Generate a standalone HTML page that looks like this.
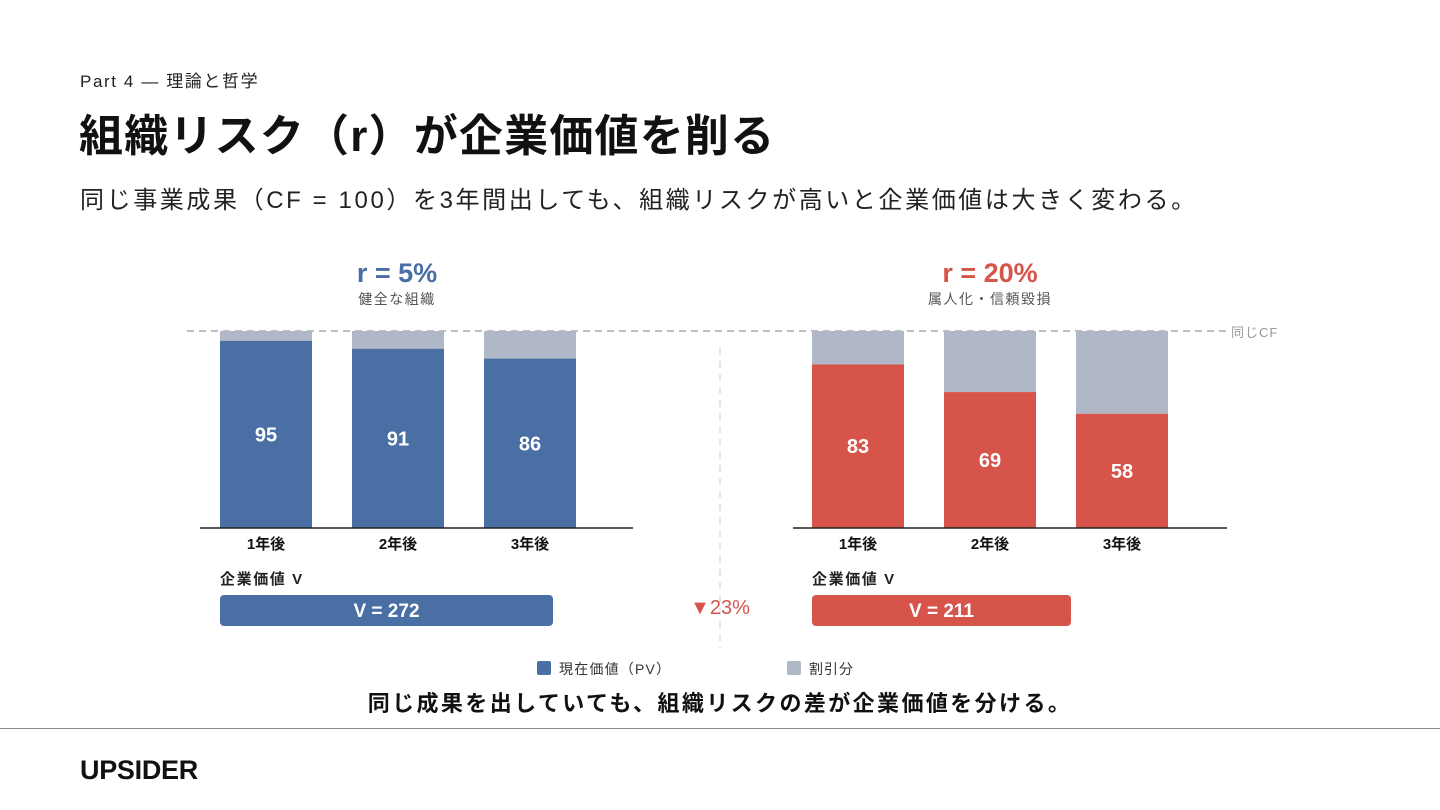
<!DOCTYPE html>
<html><head><meta charset="utf-8">
<style>
html,body{margin:0;padding:0;background:#fff;}
body{width:1440px;height:810px;position:relative;overflow:hidden;font-family:"Liberation Sans","Noto Sans CJK JP",sans-serif;color:#111;}
.abs{position:absolute;white-space:nowrap;}
</style></head><body>
<div class="abs" style="left:80px;top:67px;font-size:17px;letter-spacing:1.6px;color:#222;">Part 4 — 理論と哲学</div>
<div class="abs" style="left:79px;top:110px;font-size:44px;letter-spacing:1.2px;font-weight:bold;line-height:54px;">組織リスク（r）が企業価値を削る</div>
<div class="abs" style="left:80px;top:185px;font-size:24px;letter-spacing:2.6px;line-height:32px;color:#222;">同じ事業成果（CF = 100）を3年間出しても、組織リスクが高いと企業価値は大きく変わる。</div>

<svg id="chart" width="1440" height="810" style="position:absolute;left:0;top:0;" font-family="Liberation Sans, Noto Sans CJK JP, sans-serif"></svg>

<div class="abs" style="left:0;width:1440px;text-align:center;top:689px;font-size:22px;letter-spacing:2.4px;font-weight:bold;line-height:30px;">同じ成果を出していても、組織リスクの差が企業価値を分ける。</div>
<div class="abs" style="left:0;top:728px;width:1440px;height:1px;background:#888;"></div>
<div class="abs" style="left:80px;top:755px;font-size:27px;font-weight:bold;letter-spacing:-0.3px;line-height:30px;">UPSIDER</div>

<script>
const categories = ['1年後','2年後','3年後'];
const pvLow = [95, 91, 86];
const pvHigh = [83, 69, 58];
const cf = 100;
const totals = [272, 211];
const rates = ['r = 5%','r = 20%'];
const groupNames = ['健全な組織','属人化・信頼毀損'];
const dropLabel = '▼23%';

const NS='http://www.w3.org/2000/svg';
const svg=document.getElementById('chart');
function mk(tag,attrs,text){const e=document.createElementNS(NS,tag);for(const k in attrs)e.setAttribute(k,attrs[k]);if(text!==undefined)e.textContent=text;svg.appendChild(e);return e;}
const baseY=528, topY=331;
const y=v=>baseY-(v/cf)*(baseY-topY);
const panels=[
 {x0:220,axisL:200,axisR:633,color:'#4a6fa5',data:pvLow,cx:397,box:[220,553]},
 {x0:812,axisL:793,axisR:1227,color:'#d6544a',data:pvHigh,cx:990,box:[812,1071]}
];
const step=132,bw=92;
let e;
e=mk('line',{x1:187,x2:1228,y1:topY,y2:topY,stroke:'#999','stroke-width':1.3,'stroke-dasharray':'7 5'});


e=mk('text',{x:1231,y:337,'font-size':13,'letter-spacing':1,fill:'#999'},'同じCF');


e=mk('line',{x1:720,x2:720,y1:348,y2:648,stroke:'#ccc','stroke-width':1,'stroke-dasharray':'7 6'});


panels.forEach((p,pi)=>{
  e=mk('text',{x:p.cx,y:282,'font-size':27,'font-weight':'bold',fill:p.color,'text-anchor':'middle'},rates[pi]);
  
  
  e=mk('text',{x:p.cx,y:304,'font-size':14,'letter-spacing':1.5,fill:'#555','text-anchor':'middle'},groupNames[pi]);
  
  
  p.data.forEach((v,i)=>{
    const x=p.x0+i*step;
    e=mk('rect',{x:x,y:topY,width:bw,height:y(v)-topY,fill:'#b0b8c8'});
    
    
    e=mk('rect',{x:x,y:y(v),width:bw,height:baseY-y(v),fill:p.color});
    
    
    e=mk('text',{x:x+bw/2,y:(y(v)+baseY)/2+7,'font-size':20,'font-weight':'bold',fill:'#fff','text-anchor':'middle'},String(v));
    
    
    e=mk('text',{x:x+bw/2,y:549,'font-size':15,'font-weight':'bold',fill:'#111','text-anchor':'middle'},categories[i]);
    
    
  });
  e=mk('line',{x1:p.axisL,x2:p.axisR,y1:baseY,y2:baseY,stroke:'#222','stroke-width':1.5});
  
  
  e=mk('text',{x:p.box[0],y:584,'font-size':15,'letter-spacing':1.6,'font-weight':'bold',fill:'#222'},'企業価値 V');
  
  
  e=mk('rect',{x:p.box[0],y:595,width:p.box[1]-p.box[0],height:31,rx:4,fill:p.color});
  
  
  e=mk('text',{x:(p.box[0]+p.box[1])/2,y:617,'font-size':19,'font-weight':'bold',fill:'#fff','text-anchor':'middle'},'V = '+totals[pi]);
  
  
});
e=mk('text',{x:720,y:614,'font-size':20,fill:'#d6544a','text-anchor':'middle'},dropLabel);


e=mk('rect',{x:537,y:661,width:14,height:14,rx:2,fill:'#4a6fa5'});


e=mk('text',{x:559,y:674,'font-size':14,'letter-spacing':1.2,fill:'#333'},'現在価値（PV）');


e=mk('rect',{x:787,y:661,width:14,height:14,rx:2,fill:'#b0b8c8'});


e=mk('text',{x:809,y:674,'font-size':14,'letter-spacing':1,fill:'#333'},'割引分');


</script>
</body></html>
